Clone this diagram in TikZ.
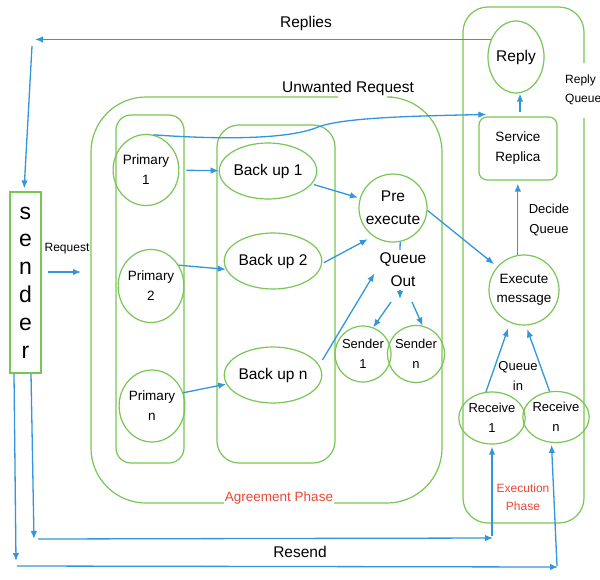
\documentclass[tikz,border=0pt]{standalone}
\usepackage{fontspec}
\setmainfont{Liberation Sans}
\usetikzlibrary{shapes.geometric,arrows.meta,calc}
\definecolor{gc}{RGB}{120,198,84}
\definecolor{bc}{RGB}{50,150,220}
\definecolor{rc}{RGB}{235,72,55}
\newcommand{\fsBig}{\fontsize{15.5}{23}\selectfont}
\newcommand{\fsMid}{\fontsize{13.5}{20}\selectfont}
\newcommand{\fsSm}{\fontsize{13}{20}\selectfont}
\newcommand{\fsXs}{\fontsize{12}{19}\selectfont}
\newcommand{\fsHuge}{\fontsize{23}{27.8}\selectfont}
\tikzset{
  gline/.style={draw=gc, line width=1.2pt},
  bline/.style={draw=bc, line width=1.3pt},
  arr/.style={draw=bc, line width=1.3pt, -{Latex[length=8pt,width=6.5pt]}},
  ell/.style={ellipse, gline, inner sep=0pt, align=center},
  circ/.style={circle, gline, inner sep=0pt, align=center},
}
\begin{document}
\begin{tikzpicture}[x=1pt,y=-1pt]
\fill[white] (0,0) rectangle (600,579);
\useasboundingbox (0,0) rectangle (600,579);

% containers
\draw[gline, rounded corners=55pt] (338,97) -- (91,97) -- (91,503) -- (442,503) -- (442,97) -- (392,97);
\draw[gline, rounded corners=15pt] (116,115) rectangle (184,463);
\draw[gline, rounded corners=22pt] (217,125) rectangle (335,463);
\draw[gline, rounded corners=25pt] (584,63) -- (584,7) -- (463,7) -- (463,523) -- (584,523) -- (584,118);

% sender
\node[draw=gc, line width=1.2pt, minimum width=31, minimum height=181, inner sep=0pt,
      align=center, font=\fsHuge] (sender) at (25.5,282.5) {s\\e\\n\\d\\e\\r};

% primaries
\node[ell, minimum width=53, minimum height=71, font=\fsMid] (p1) at (146,170) {Primary\\1};
\node[ell, minimum width=64, minimum height=73, font=\fsMid] (p2) at (151,286) {Primary\\2};
\node[ell, minimum width=61, minimum height=72, font=\fsMid] (pn) at (152,406) {Primary\\n};

% backups
\node[ell, minimum width=91, minimum height=56, font=\fsBig] (b1) at (268,171) {Back up 1};
\node[ell, minimum width=93, minimum height=56, font=\fsBig] (b2) at (273,261) {Back up 2};
\node[ell, minimum width=89, minimum height=56, font=\fsBig] (bn) at (273,375) {Back up n};

% pre execute and senders
\node[circ, minimum size=68, font=\fsBig] (pre) at (393,208) {Pre\\execute};
\node[align=center, font=\fsBig, inner sep=3pt] (qo) at (403,270) {Queue\\Out};
\node[circ, minimum size=56, font=\fsSm] (s1) at (363,354) {Sender\\1};
\node[circ, minimum size=57, font=\fsSm] (sn) at (416,354) {Sender\\n};

% execution side
\node[ell, minimum width=54, minimum height=72, font=\fsBig] (reply) at (516,57) {Reply};
\node[draw=gc, line width=1.2pt, rounded corners=8pt, minimum width=78, minimum height=63,
      align=center, font=\fsMid] (sr) at (518,148.5) {Service\\Replica};
\node[circ, minimum size=70, font=\fontsize{13.5}{19}\selectfont] (em) at (524,290) {Execute\\message};
\node[ell, minimum width=57, minimum height=52, font=\fsSm] (r1) at (492,418) {Receive\\1};
\node[ell, minimum width=57, minimum height=51, font=\fsSm] (rn) at (556,417) {Receive\\n};

% texts
\node[font=\fsBig] (replies) at (306,23) {Replies};
\node[font=\fsBig] (unw) at (348,88) {Unwanted Request};
\node[font=\fsBig] (resend) at (300,552) {Resend};
\node[font=\fsXs] (req) at (67,249) {Request};
\node[font=\fsMid, text=rc, fill=white, inner sep=1pt] (agp) at (279,498) {Agreement Phase};
\node[font=\fontsize{12}{18}\selectfont, text=rc, align=center] (exp) at (523,497) {Execution\\Phase};
\node[font=\fsXs, align=left, anchor=west, inner sep=0pt] (rq) at (565,90) {Reply\\Queue};
\node[font=\fsSm, align=center] (dq) at (549,220) {Decide\\Queue};
\node[font=\fsSm, align=center] (qi) at (518,376) {Queue\\in};

% coordinates for free ends
\coordinate (repL) at (35,40);
\coordinate (repD) at (32,46);
\coordinate (agL) at (91,272);
\coordinate (qsplit) at (400,299);
\coordinate (qa) at (391,302);
\coordinate (qb) at (412,302);
\coordinate (rA) at (34,539);
\coordinate (rB) at (493,538);
\coordinate (rC) at (16,561);
\coordinate (rD) at (558,567);

% connectors: primaries -> backups
\draw[arr, shorten <=7pt] (p1) -- (b1);
\draw[arr] (p2.37) -- (b2.190);
\draw[arr] (pn.23) -- (bn.191);
% backups -> pre execute
\draw[arr, shorten <=2pt, shorten >=2pt] (b1) -- (pre);
\draw[arr, shorten <=2pt, shorten >=6pt] (b2.-3) -- (pre.235);
\draw[arr, shorten <=6pt, shorten >=4pt] (bn.12) -- (qo.west);
% queue out
\draw[bline] (pre.-78) -- ([xshift=-3pt]qo.north);
\draw[arr] ([xshift=-3pt]qo.south) -- (qsplit);
\draw[arr] (qa) -- (s1.69);
\draw[arr] (qb) -- (sn.77);
% pre -> execute
\draw[arr, shorten >=4pt] (pre.-4) -- (em.139);
% execute -> service replica -> reply
\draw[arr, shorten >=3pt] (em.100) -- (em.100 |- sr.south);
\draw[arr, shorten <=4pt] ([xshift=2pt]sr.north) -- ([xshift=2pt]sr.north |- reply.south);
% receives -> execute
\draw[arr, shorten >=6pt] (r1.103) -- (em.-113);
\draw[arr, shorten >=4pt] (rn.104) -- (em.-87);
% primary 1 -> service replica curve
\draw[arr] (p1.78) .. controls (240,141) and (295,137) .. (318,127)
  .. controls (345,117) and (420,116) .. ([xshift=8pt,yshift=2pt]sr.north west);
% replies
\draw[arr] (reply.145) -- (reply.145 -| repL);
\draw[arr, shorten >=3pt] (repD) -- ([xshift=-1.5pt]sender.north);
% request
\draw[arr, shorten <=6pt, shorten >=10pt] ([yshift=10.5pt]sender.east) -- ([yshift=10.5pt]sender.east -| agL);
% resend
\draw[arr] ([xshift=5.5pt]sender.south) -- (rA);
\draw[arr] ([xshift=4pt]rA) -- (rB);
\draw[arr, shorten >=2pt] ([xshift=-1pt,yshift=2pt]rB) -- (r1.south);
\draw[arr] ([xshift=-11.5pt]sender.south) -- (rC);
\draw[arr] ([xshift=1pt,yshift=-5pt]rC) -- (rD);
\draw[arr, shorten >=2pt] ([xshift=-1pt,yshift=1pt]rD) -- (rn.-100);
\end{tikzpicture}
\end{document}
